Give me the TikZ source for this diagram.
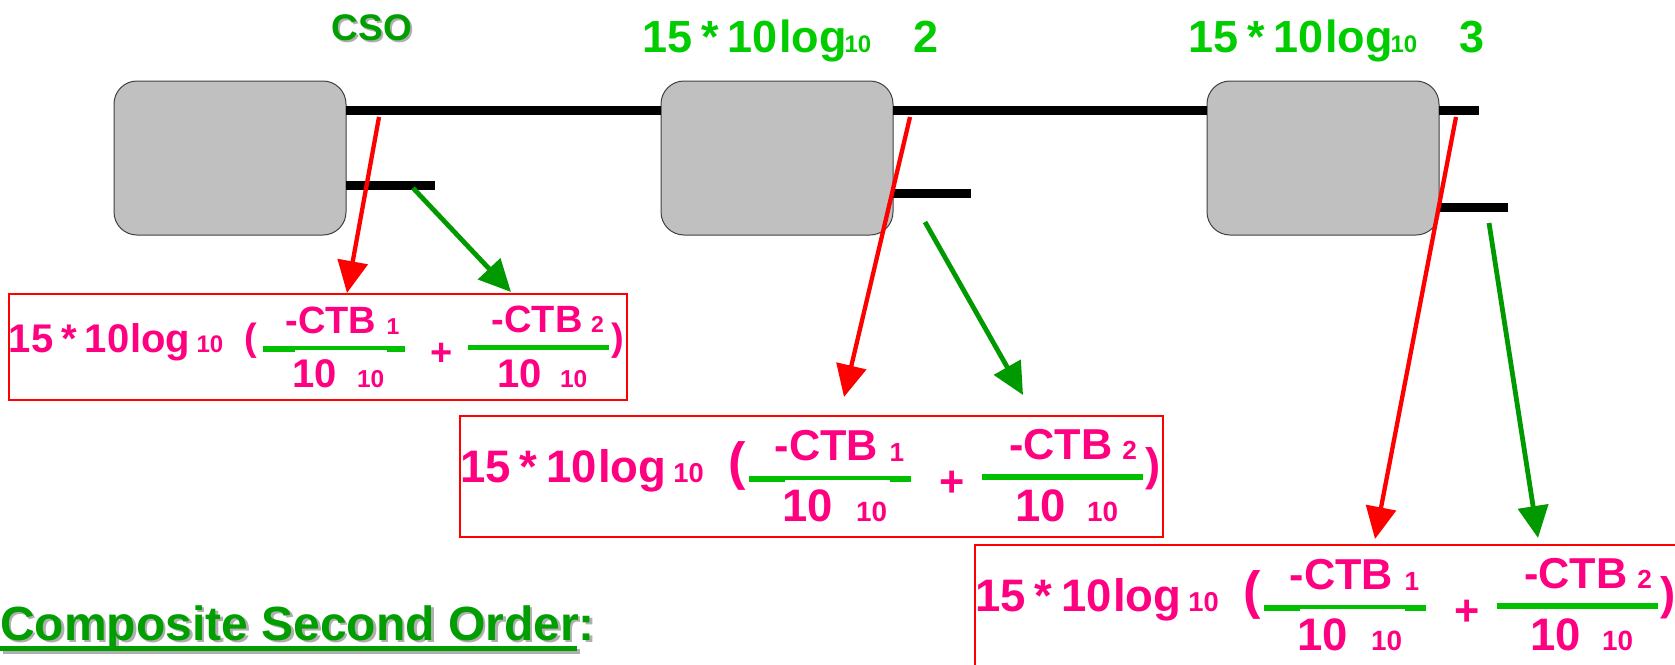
\documentclass[tikz,border=0pt]{standalone}
\usepackage{fontspec}
\setmainfont{Liberation Sans}
\usetikzlibrary{arrows.meta}

\definecolor{pinkT}{RGB}{255,0,128}
\definecolor{barG}{RGB}{0,192,0}
\definecolor{labG}{RGB}{0,204,0}
\definecolor{darkG}{RGB}{0,158,0}
\definecolor{arrG}{RGB}{0,153,0}
\definecolor{redA}{RGB}{255,0,0}
\definecolor{boxgray}{RGB}{192,192,192}
\definecolor{shadowgray}{RGB}{175,175,175}

% bold text of a given size, with tight word spacing
\newcommand\fsz[1]{\fontsize{#1}{#1}\selectfont\bfseries\spaceskip=0.2em\relax}
% bold text of a given size, normal word spacing
\newcommand\fszn[1]{\fontsize{#1}{#1}\selectfont\bfseries}

\tikzset{
  gbox/.style={draw=black!75, fill=boxgray, line width=1pt, rounded corners=23pt,
    minimum width=232pt, minimum height=154pt, inner sep=0pt, outer sep=0pt},
  wire/.style={line width=9pt, black},
  fbox/.style={draw=redA, line width=2.2pt, minimum width=618pt, minimum height=106pt,
    anchor=north west, inner sep=0pt, outer sep=0pt},
  ft/.style={anchor=base west, inner sep=0pt, outer sep=0pt, text=pinkT},
  lt/.style={anchor=base west, inner sep=0pt, outer sep=0pt, text=labG},
  redarr/.style={draw=redA, line width=4.3pt, -{Triangle[length=32pt,width=30pt]}},
  grnarr/.style={draw=arrG, line width=4.8pt, -{Triangle[length=32pt,width=30pt]}},
}

% #1 name, #2 origin, #3 scale, #4 size of "(", #5 baseline of "(", #6 size of ")"
\newcommand\ctbformula[6]{%
  \begin{scope}[shift={#2}, scale=#3, transform shape]
    \node[fbox] (#1) at (0,0) {};
    \node[ft, font=\fsz{40}] (#1-a) at (0,58) {15 * 10};
    \node[ft, font=\fsz{40}] (#1-b) at (121.4,58) {log};
    \node[ft, font=\fsz{24}] (#1-c) at (187.5,58) {10};
    \node[ft, font=\fsz{#4}] (#1-d) at (235.5,#5) {(};
    % first fraction bar, slightly heavier at both ends
    \fill[barG] (254,52.4) rectangle (396,56.2);
    \fill[barG] (254,52.4) rectangle (286,57.7);
    \fill[barG] (378,52.4) rectangle (396,57.7);
    \node[ft, font=\fsz{38}] (#1-e) at (276.5,39) {-CTB};
    \node[ft, font=\fsz{23}] (#1-f) at (377.5,40) {1};
    \node[ft, font=\fsz{40}] (#1-g) at (283,93) {10};
    \node[ft, font=\fsz{24.5}] (#1-h) at (348,93) {10};
    \node[ft, font=\fsz{38}] (#1-i) at (421,71) {+};
    % second fraction bar
    \fill[barG] (459,51) rectangle (600,56.3);
    \node[ft, font=\fsz{38}] (#1-j) at (482.7,38) {-CTB};
    \node[ft, font=\fsz{23}] (#1-k) at (582,38) {2};
    \node[ft, font=\fsz{40}] (#1-l) at (488,93) {10};
    \node[ft, font=\fsz{24.5}] (#1-m) at (551,93) {10};
    \node[ft, font=\fsz{#6}] (#1-n) at (602,56.3) {)};
  \end{scope}}

\begin{document}
\begin{tikzpicture}[x=1pt, y=-1pt]
\useasboundingbox (0,0) rectangle (1675,664);
\clip (0,0) rectangle (1675,664);

% devices
\node[gbox] (box1) at (230,158) {};
\node[gbox] (box2) at (777,158) {};
\node[gbox] (box3) at (1323,158) {};

% trunk and branch lines
\coordinate (mainend) at (1479,110);
\coordinate (s1) at (435,185);
\coordinate (s2) at (971,193);
\coordinate (s3) at (1508,207);
\draw[wire] (box1.east |- mainend) -- (box2.west |- mainend);
\draw[wire] (box2.east |- mainend) -- (box3.west |- mainend);
\draw[wire] (box3.east |- mainend) -- (mainend);
\draw[wire] (box1.east |- s1) -- (s1);
\draw[wire] (box2.east |- s2) -- (s2);
\draw[wire] (box3.east |- s3) -- (s3);

% labels above the devices
\node[anchor=base, inner sep=0pt, text=shadowgray, font=\fsz{37}] (csoshadow) at (374,42) {CSO};
\node[anchor=base, inner sep=0pt, text=darkG, font=\fsz{37}] (cso) at (372,40) {CSO};

\node[lt, font=\fsz{45}] (l2a) at (642.3,52) {15 * 10};
\node[lt, font=\fsz{45}] (l2b) at (779,52) {log};
\node[lt, font=\fsz{24}] (l2c) at (844.5,52) {10};
\node[lt, font=\fsz{45}] (l2d) at (913.7,52) {2};

\node[lt, font=\fsz{45}] (l3a) at (1188.3,52) {15 * 10};
\node[lt, font=\fsz{45}] (l3b) at (1325,52) {log};
\node[lt, font=\fsz{24}] (l3c) at (1390.5,52) {10};
\node[lt, font=\fsz{45}] (l3d) at (1459.7,52) {3};

% formula boxes
\ctbformula{fA}{(9,294)}{1}{38}{56}{38}
\ctbformula{fB}{(460,416)}{1.138}{46}{55.5}{40}
\ctbformula{fC}{(975,545)}{1.138}{46}{55.5}{40}

% arrows from the lines to the formulas
\coordinate (r1s) at (379,117);  \coordinate (r1e) at (347,293);
\coordinate (g1s) at (413,188);  \coordinate (g1e) at (511,292);
\coordinate (r2s) at (910,117);  \coordinate (r2e) at (844,397);
\coordinate (g2s) at (925,222);  \coordinate (g2e) at (1023,395);
\coordinate (r3s) at (1456,117); \coordinate (r3e) at (1375,539);
\coordinate (g3s) at (1489,223); \coordinate (g3e) at (1538,538);
\draw[redarr] (r1s) -- (r1e);
\draw[grnarr] (g1s) -- (g1e);
\draw[redarr] (r2s) -- (r2e);
\draw[grnarr] (g2s) -- (g2e);
\draw[redarr] (r3s) -- (r3e);
\draw[grnarr] (g3s) -- (g3e);

% heading
\node[anchor=base west, inner sep=0pt, text=shadowgray, font=\fszn{48}] (titleshadow) at (2.5,642.5) {Composite Second Order:};
\node[anchor=base west, inner sep=0pt, text=darkG, font=\fszn{48}] (title) at (0,640) {Composite Second Order:};
\draw[shadowgray, line width=5pt] (2.5,651) -- (579.5,651);
\draw[darkG, line width=5pt] (0,648.5) -- (577,648.5);
\end{tikzpicture}
\end{document}
